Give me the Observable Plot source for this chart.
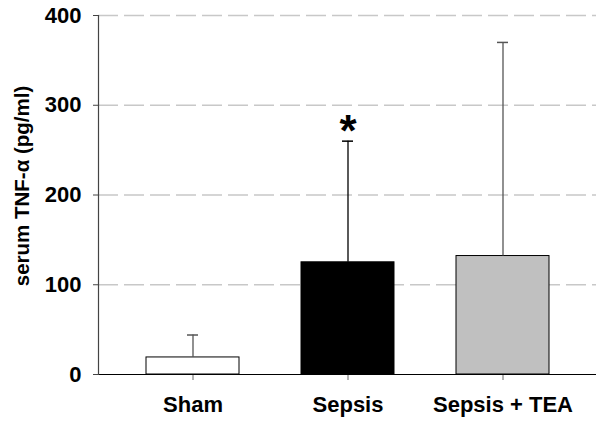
<!DOCTYPE html>
<html><head><meta charset="utf-8">
<script src="https://cdn.jsdelivr.net/npm/d3@7"></script>
<script src="https://cdn.jsdelivr.net/npm/@observablehq/plot@0.6"></script>
<style>body{margin:0;background:#fff} svg{display:block}</style>
</head><body><div id="chart"></div>
<script>
const groups = ["Sham", "Sepsis", "Sepsis + TEA"];
const means = [19, 125, 132];
const upper = [44, 260, 370];
const significance = ["", "*", ""];
const yTicks = [0, 100, 200, 300, 400];
const gridTicks = [100, 200, 300, 400];
const yLabel = "serum TNF-α (pg/ml)";

const data = groups.map((g, i) => ({group: g, mean: means[i], upper: upper[i], sig: significance[i]}));
const fills = {"Sham": "#ffffff", "Sepsis": "#000000", "Sepsis + TEA": "#c0c0c0"};
const errColors = {"Sham": "#555555", "Sepsis": "#000000", "Sepsis + TEA": "#555555"};
const font = "'Liberation Sans', Arial, sans-serif";

const plot = Plot.plot({
  width: 600, height: 423,
  marginLeft: 98, marginRight: 4, marginTop: 15, marginBottom: 49,
  style: {fontFamily: font, fontWeight: "bold", background: "#fff"},
  x: {domain: groups, paddingInner: 0.4, paddingOuter: 0.3},
  y: {domain: [0, 400]},
  color: {type: "identity"},
  marks: [
    Plot.ruleY(gridTicks, {stroke: "#c8c8c8", strokeWidth: 1.5, strokeDasharray: "20,6"}),
    Plot.barY(data, {x: "group", y: "mean", fill: d => fills[d.group], stroke: "#000", strokeWidth: 1}),
    Plot.ruleX(data, {x: "group", y1: "mean", y2: "upper", stroke: d => errColors[d.group], strokeWidth: 1.3}),
    Plot.tickY(data, {x: "group", y: "upper", stroke: d => errColors[d.group], strokeWidth: 1.5, insetLeft: 41, insetRight: 41}),
    Plot.text(data, {x: "group", y: "upper", text: "sig", fontSize: 44, fontWeight: "bold", dy: -9}),
    Plot.axisY({ticks: yTicks, tickSize: 5, tickPadding: 12, fontSize: 22, label: null, stroke: "#444"}),
    Plot.axisX({tickSize: 6, tickPadding: 16, fontSize: 22, label: null, stroke: "#666"}),
    Plot.ruleY([0], {stroke: "#000", strokeWidth: 1.2}),
    Plot.frame({anchor: "left", stroke: "#444", strokeWidth: 1.2}),
    Plot.text([yLabel], {frameAnchor: "left", textAnchor: "middle", rotate: -90, dx: -76, dy: -9, fontSize: 20.5, fontWeight: "bold"})
  ]
});
document.getElementById("chart").appendChild(plot);
</script>
</body></html>
